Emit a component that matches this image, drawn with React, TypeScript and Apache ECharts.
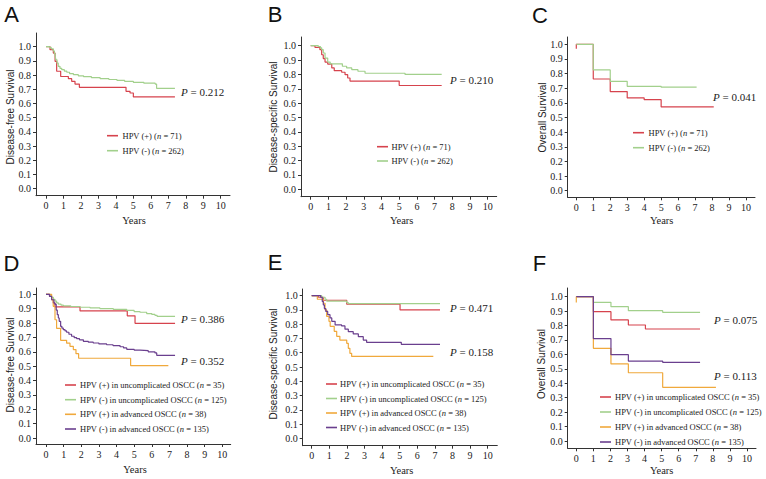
import React, { useEffect, useRef } from "react";
import * as echarts from "echarts";

// ---------- tick values ----------
const xTicks = [0, 1, 2, 3, 4, 5, 6, 7, 8, 9, 10];
const yTicks = [0, 0.1, 0.2, 0.3, 0.4, 0.5, 0.6, 0.7, 0.8, 0.9, 1.0];

// ---------- labels ----------
const panelLetters = ["A", "B", "C", "D", "E", "F"];
const yTitles = [
  "Disease-free Survival",
  "Disease-specific Survival",
  "Overall Survival",
  "Disease-free Survival",
  "Disease-specific Survival",
  "Overall Survival",
];
const xTitle = "Years";
const groupsABC = ["HPV (+)", "HPV (-)"];
const nABC = [71, 262];
const groupsDEF = [
  "HPV (+) in uncomplicated OSCC",
  "HPV (-) in uncomplicated OSCC",
  "HPV (+) in advanced OSCC",
  "HPV (-) in advanced OSCC",
];
const nDEF = [35, 125, 38, 135];
const pValuesA = ["0.212"];
const pValuesB = ["0.210"];
const pValuesC = ["0.041"];
const pValuesD = ["0.386", "0.352"];
const pValuesE = ["0.471", "0.158"];
const pValuesF = ["0.075", "0.113"];

// ---------- survival curves [years, survival] ----------
const aPos = [[0,1],[0.23,0.979],[0.42,0.955],[0.52,0.897],[0.61,0.827],[0.84,0.79],[1.28,0.775],[1.47,0.756],[1.66,0.737],[1.91,0.714],[4.58,0.686],[4.81,0.674],[5.0,0.646],[7.38,0.646]];
const aNeg = [[0,1],[0.2,0.995],[0.3,0.985],[0.42,0.97],[0.48,0.95],[0.53,0.93],[0.57,0.908],[0.63,0.885],[0.7,0.862],[0.8,0.848],[0.9,0.838],[1.05,0.828],[1.19,0.82],[1.35,0.81],[1.57,0.803],[1.85,0.795],[2.15,0.789],[2.6,0.782],[3.1,0.775],[3.6,0.769],[4.06,0.763],[4.5,0.756],[5.0,0.749],[5.6,0.743],[6.25,0.737],[6.33,0.707],[7.38,0.707]];

const bPos = [[0,1],[0.24,0.989],[0.52,0.972],[0.62,0.937],[0.71,0.91],[0.81,0.886],[0.96,0.872],[1.19,0.845],[1.33,0.826],[1.75,0.815],[1.94,0.798],[2.09,0.775],[2.22,0.754],[5.0,0.723],[7.4,0.723]];
const bNeg = [[0,1],[0.43,0.994],[0.55,0.985],[0.62,0.972],[0.71,0.949],[0.81,0.914],[0.96,0.886],[1.1,0.874],[1.79,0.857],[2.03,0.845],[2.32,0.833],[2.67,0.822],[3.07,0.808],[5.33,0.8],[7.4,0.8]];

const cPos = [[0,0.97],[0,1],[1,0.763],[2,0.677],[3,0.634],[4,0.622],[5,0.572],[8.1,0.572]];
const cNeg = [[0,1],[1,0.825],[2,0.747],[3,0.713],[5,0.707],[7.09,0.707]];

const dPosUnc = [[0,1],[0.2,0.985],[0.32,0.962],[0.41,0.939],[0.51,0.912],[1.93,0.884],[4.61,0.85],[5.05,0.798],[7.32,0.798]];
const dNegUnc = [[0,1],[0.2,0.99],[0.32,0.978],[0.42,0.965],[0.51,0.953],[0.6,0.94],[0.7,0.932],[0.85,0.925],[0.98,0.92],[1.4,0.915],[1.93,0.91],[2.5,0.905],[3.06,0.9],[3.82,0.895],[4.58,0.888],[5.0,0.88],[5.33,0.875],[5.71,0.866],[6.0,0.86],[6.18,0.854],[6.3,0.847],[7.32,0.847]];
const dPosAdv = [[0,1],[0.32,0.962],[0.41,0.916],[0.51,0.823],[0.6,0.763],[0.83,0.68],[1.17,0.66],[1.36,0.638],[1.55,0.615],[1.7,0.587],[1.85,0.555],[4.8,0.503],[6.94,0.503]];
const dNegAdv = [[0,1],[0.2,0.985],[0.32,0.962],[0.45,0.94],[0.51,0.93],[0.58,0.89],[0.64,0.858],[0.7,0.835],[0.75,0.812],[0.83,0.777],[0.9,0.765],[0.98,0.754],[1.08,0.745],[1.17,0.736],[1.3,0.722],[1.45,0.708],[1.6,0.698],[1.74,0.691],[1.9,0.683],[2.12,0.673],[2.4,0.667],[2.68,0.661],[3.0,0.655],[3.44,0.649],[3.8,0.643],[4.2,0.635],[4.4,0.627],[4.58,0.617],[5.0,0.612],[5.33,0.608],[5.8,0.6],[6.18,0.592],[6.28,0.575],[7.32,0.575]];

const ePosUnc = [[0,1],[0.38,0.989],[0.66,0.968],[1.99,0.94],[5.02,0.9],[7.29,0.9]];
const eNegUnc = [[0,1],[0.57,0.989],[0.76,0.975],[0.85,0.962],[1.99,0.951],[2.08,0.945],[7.29,0.945]];
const ePosAdv = [[0,1],[0.32,0.975],[0.66,0.947],[0.76,0.9],[0.85,0.855],[0.98,0.82],[1.05,0.785],[1.28,0.75],[1.42,0.715],[1.6,0.689],[1.99,0.666],[2.08,0.631],[2.17,0.596],[2.27,0.574],[6.91,0.574]];
const eNegAdv = [[0,1],[0.51,0.989],[0.6,0.96],[0.66,0.935],[0.72,0.91],[0.8,0.89],[0.91,0.867],[1.04,0.844],[1.14,0.82],[1.33,0.795],[1.7,0.788],[1.89,0.765],[2.08,0.748],[2.36,0.732],[2.65,0.713],[2.93,0.689],[3.12,0.673],[5.09,0.659],[7.29,0.659]];

const fPosUnc = [[0,1],[1,0.896],[2.03,0.839],[3.05,0.804],[4.05,0.776],[7.25,0.776]];
const fNegUnc = [[0,1],[1,0.961],[2.03,0.931],[3.05,0.903],[5.06,0.892],[7.25,0.892]];
const fPosAdv = [[0,0.96],[0,1],[1,0.642],[2.03,0.534],[3.05,0.473],[5.06,0.372],[8.18,0.372]];
const fNegAdv = [[0,1],[1,0.71],[2.03,0.598],[3.05,0.554],[5.06,0.545],[7.25,0.545]];

// ---------- styling / layout ----------
const RED = "#d6434d";
const GREEN = "#a2d08c";
const ORANGE = "#f0a93c";
const PURPLE = "#6a3f8e";
const SERIF = "'Liberation Serif', 'Times New Roman', serif";
const SANS = "'Liberation Sans', Arial, sans-serif";
const INK = "#222";

type Layout = {
  ax: number; ay: number; x0: number; x10: number; y1: number; y0: number; xr: number; yt: number;
  letter: [number, number]; ytitle: [number, number]; xtitle: [number, number];
  p: [number, number][]; leg: { lx: number; tx: number; ys: number[] };
};

const LAYOUT: Layout[] = [
  { ax: 36, ay: 195.7, x0: 46, x10: 220.7, y1: 46.7, y0: 188.7, xr: 230, yt: 33,
    letter: [11.5, 14.5], ytitle: [10, 117], xtitle: [134, 220],
    p: [[181, 92]], leg: { lx: 107, tx: 122.5, ys: [135.7, 150.7] } },
  { ax: 301, ay: 196.7, x0: 310.7, x10: 487.7, y1: 45.7, y0: 189.3, xr: 496.7, yt: 37,
    letter: [275, 14.5], ytitle: [273.3, 117], xtitle: [401.7, 220],
    p: [[450, 80]], leg: { lx: 377, tx: 391.5, ys: [146.7, 161] } },
  { ax: 567.7, ay: 197.3, x0: 576.3, x10: 746, y1: 44.3, y0: 190.7, xr: 755, yt: 37,
    letter: [540, 15], ytitle: [542, 117.5], xtitle: [661.7, 220.7],
    p: [[713, 96.7]], leg: { lx: 633, tx: 648.5, ys: [132.7, 147.7] } },
  { ax: 36, ay: 444, x0: 46, x10: 222.3, y1: 294.3, y0: 438, xr: 230.7, yt: 288,
    letter: [11.5, 263], ytitle: [10, 365], xtitle: [135, 469.3],
    p: [[181, 319.3], [181, 360.7]], leg: { lx: 65, tx: 80, ys: [385, 399.7, 414.3, 429] } },
  { ax: 302.7, ay: 445.7, x0: 311.7, x10: 487.7, y1: 295.7, y0: 438.3, xr: 497.3, yt: 289,
    letter: [275, 262.5], ytitle: [273.3, 364], xtitle: [401.7, 470],
    p: [[450, 307.7], [450, 352.3]], leg: { lx: 326, tx: 340, ys: [384, 398.5, 413, 427.5] } },
  { ax: 567.7, ay: 448.3, x0: 576.3, x10: 747, y1: 296.7, y0: 441, xr: 756, yt: 288,
    letter: [539.5, 263], ytitle: [541, 364], xtitle: [661.7, 470],
    p: [[714, 320], [714, 376]], leg: { lx: 600, tx: 615, ys: [397, 412, 427, 442] } },
];

const PANEL_SERIES = [
  { curves: [aPos, aNeg], colors: [RED, GREEN], p: pValuesA },
  { curves: [bPos, bNeg], colors: [RED, GREEN], p: pValuesB },
  { curves: [cPos, cNeg], colors: [RED, GREEN], p: pValuesC },
  { curves: [dPosUnc, dNegUnc, dPosAdv, dNegAdv], colors: [RED, GREEN, ORANGE, PURPLE], p: pValuesD },
  { curves: [ePosUnc, eNegUnc, ePosAdv, eNegAdv], colors: [RED, GREEN, ORANGE, PURPLE], p: pValuesE },
  { curves: [fPosUnc, fNegUnc, fPosAdv, fNegAdv], colors: [RED, GREEN, ORANGE, PURPLE], p: pValuesF },
];

function buildOption() {
  const grid: any[] = [];
  const xAxis: any[] = [];
  const yAxis: any[] = [];
  const series: any[] = [];
  const graphic: any[] = [];

  LAYOUT.forEach((L, i) => {
    const ppx = (L.x10 - L.x0) / 10;
    const ppy = L.y0 - L.y1;
    grid.push({
      left: L.ax, top: L.yt, width: L.xr - L.ax, height: L.ay - L.yt,
      containLabel: false, outerBoundsMode: "none",
    });
    const axisLine = { show: true, onZero: false, lineStyle: { color: "#333", width: 1 } };
    xAxis.push({
      type: "value", gridIndex: i,
      min: -(L.x0 - L.ax) / ppx, max: 10 + (L.xr - L.x10) / ppx,
      splitLine: { show: false }, axisLine,
      axisTick: { show: true, customValues: xTicks, length: 3, lineStyle: { color: "#333" } },
      axisLabel: {
        customValues: xTicks, margin: 5, fontFamily: SERIF, fontSize: 10, color: INK,
        formatter: (v: number) => String(Math.round(v)),
      },
    });
    yAxis.push({
      type: "value", gridIndex: i,
      min: -(L.ay - L.y0) / ppy, max: 1 + (L.y1 - L.yt) / ppy,
      splitLine: { show: false }, axisLine,
      axisTick: { show: true, customValues: yTicks, length: 3, lineStyle: { color: "#333" } },
      axisLabel: {
        customValues: yTicks, margin: 5, fontFamily: SERIF, fontSize: 10, color: INK,
        formatter: (v: number) => v.toFixed(1),
      },
    });

    const P = PANEL_SERIES[i];
    const names = P.curves.length === 2 ? groupsABC : groupsDEF;
    const ns = P.curves.length === 2 ? nABC : nDEF;
    P.curves.forEach((c, k) => {
      series.push({
        type: "line", name: names[k] + " " + i, xAxisIndex: i, yAxisIndex: i,
        data: c, step: "end", showSymbol: false, symbol: "none",
        lineStyle: { color: P.colors[k], width: 1.2 }, silent: true,
      });
    });

    // panel letter
    graphic.push({
      type: "text", x: L.letter[0], y: L.letter[1],
      style: { text: panelLetters[i], font: `22px ${SANS}`, fill: "#111", align: "center", verticalAlign: "middle" },
    });
    // y title
    graphic.push({
      type: "text", x: L.ytitle[0], y: L.ytitle[1], rotation: Math.PI / 2,
      style: { text: yTitles[i], font: `10px ${SANS}`, fill: INK, align: "center", verticalAlign: "middle" },
    });
    // x title
    graphic.push({
      type: "text", x: L.xtitle[0], y: L.xtitle[1],
      style: { text: xTitle, font: `10.5px ${SERIF}`, fill: INK, align: "center", verticalAlign: "middle" },
    });
    // p values
    P.p.forEach((pv, k) => {
      graphic.push({
        type: "text", x: L.p[k][0], y: L.p[k][1],
        style: {
          text: `{i|P} = ${pv}`, fontFamily: SERIF, fontSize: 11, fill: INK,
          align: "left", verticalAlign: "middle",
          rich: { i: { fontStyle: "italic", fontFamily: SERIF, fontSize: 11, fill: INK } },
        },
      });
    });
    // legend
    names.forEach((nm, k) => {
      const y = L.leg.ys[k];
      graphic.push({
        type: "line", shape: { x1: L.leg.lx, y1: y, x2: L.leg.lx + 11, y2: y },
        style: { stroke: P.colors[k], lineWidth: 1.6 },
      });
      graphic.push({
        type: "text", x: L.leg.tx, y,
        style: {
          text: `${nm} ({i|n} = ${ns[k]})`, fontFamily: SERIF, fontSize: 8.5, fill: INK,
          align: "left", verticalAlign: "middle",
          rich: { i: { fontStyle: "italic", fontFamily: SERIF, fontSize: 8.5, fill: INK } },
        },
      });
    });
  });

  return {
    animation: false,
    backgroundColor: "#ffffff",
    grid, xAxis, yAxis, series, graphic,
  };
}

export default function App() {
  const ref = useRef<HTMLDivElement>(null);
  useEffect(() => {
    if (!ref.current) return;
    const chart = echarts.init(ref.current, undefined, { renderer: "svg" });
    chart.setOption(buildOption() as any);
    return () => chart.dispose();
  }, []);
  return (
    <div
      ref={ref}
      style={{ position: "absolute", left: 0, top: 0, width: 766, height: 479, background: "#fff" }}
    />
  );
}
